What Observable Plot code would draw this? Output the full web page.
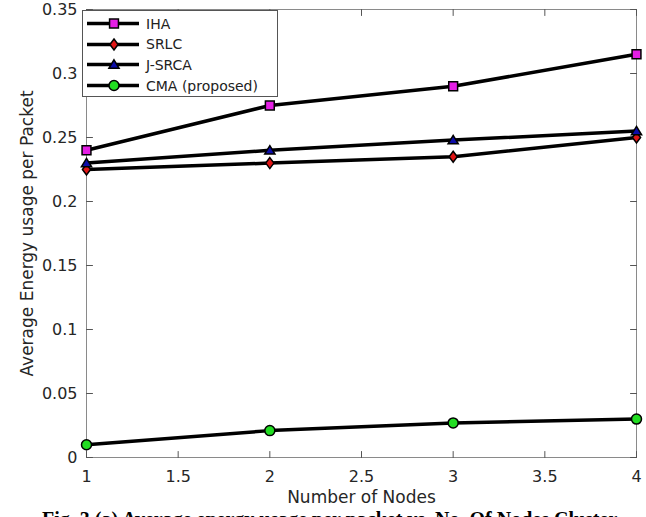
<!DOCTYPE html>
<html>
<head>
<meta charset="utf-8">
<script src="https://cdn.jsdelivr.net/npm/d3@7"></script>
<script src="https://cdn.jsdelivr.net/npm/@observablehq/plot@0.6"></script>
<style>
  html, body { margin: 0; padding: 0; background: #fff; }
  #wrap { position: relative; width: 646px; height: 517px; overflow: hidden; font-family: "DejaVu Sans", sans-serif; }
  #legend { position: absolute; left: 82px; top: 10px; width: 196px; height: 87px; border: 1px solid #555; background: #fff; box-sizing: border-box; }
  .row { position: absolute; left: 0; height: 21px; display: flex; align-items: center; }
  .row svg { display: block; }
  .row span { font-size: 14px; color: #222; margin-left: 5px; white-space: nowrap; }
  #caption { position: absolute; left: 42px; top: 509px; font-family: "Liberation Serif", serif; font-weight: bold; font-size: 20px; line-height: 20px; white-space: nowrap; color: #000; }
</style>
</head>
<body>
<div id="wrap"></div>
<script>
// ---- data ----
const nodes = [1, 2, 3, 4];
const seriesNames = ["IHA", "SRLC", "J-SRCA", "CMA (proposed)"];
const IHA = [0.24, 0.275, 0.29, 0.315];
const SRLC = [0.225, 0.23, 0.235, 0.25];
const JSRCA = [0.23, 0.24, 0.248, 0.255];
const CMA = [0.01, 0.021, 0.027, 0.03];
const xTicks = [1, 1.5, 2, 2.5, 3, 3.5, 4];
const yTicks = [0, 0.05, 0.1, 0.15, 0.2, 0.25, 0.3, 0.35];
const xTitle = "Number of Nodes";
const yTitle = "Average Energy usage per Packet";
const captionText = "Fig. 3 (a) Average energy usage per packet vs. No. Of Nodes Cluster";

// ---- styles ----
const colors = ["#e51ee5", "#e01515", "#0c0ca8", "#22dd22"];
const radius = [5, 5, 4.8, 5];

const diamond = {
  draw(ctx, size) {
    const s = Math.sqrt(size);
    const h = s * 0.62, w = s * 0.46;
    ctx.moveTo(0, -h); ctx.lineTo(w, 0); ctx.lineTo(0, h); ctx.lineTo(-w, 0); ctx.closePath();
  }
};
const triangle = {
  draw(ctx, size) {
    const s = Math.sqrt(size);
    const h = s * 0.55, w = s * 0.6;
    ctx.moveTo(0, -h); ctx.lineTo(w, h * 0.8); ctx.lineTo(-w, h * 0.8); ctx.closePath();
  }
};
const symbols = [d3.symbolSquare, diamond, triangle, d3.symbolCircle];

const allValues = [IHA, SRLC, JSRCA, CMA];
const table = [];
seriesNames.forEach((s, k) => nodes.forEach((n, i) => table.push({series: s, nodes: n, value: allValues[k][i]})));

const tickShape = { draw(ctx, l) { ctx.moveTo(0, 0); ctx.lineTo(0, -l); } };
const tickStyle = {length: 6, anchor: "start", shape: tickShape, stroke: "#555", strokeWidth: 1};

const marks = [
  Plot.frame({stroke: "#8a8a8a"}),
  Plot.vector(yTicks, {y: d => d, frameAnchor: "left", rotate: 90, ...tickStyle}),
  Plot.vector(yTicks, {y: d => d, frameAnchor: "right", rotate: -90, ...tickStyle}),
  Plot.vector(xTicks, {x: d => d, frameAnchor: "bottom", rotate: 0, ...tickStyle}),
  Plot.vector(xTicks, {x: d => d, frameAnchor: "top", rotate: 180, ...tickStyle}),
  Plot.axisX({ticks: xTicks, tickSize: 0, tickPadding: 13, tickFormat: d => String(d), label: null, fontSize: 16, fill: "#262626"}),
  Plot.axisY({ticks: yTicks, tickSize: 0, tickPadding: 9, tickFormat: d => String(d), label: null, fontSize: 16, fill: "#262626"}),
  Plot.text([xTitle], {text: d => d, frameAnchor: "bottom", textAnchor: "middle", dy: 45, fontSize: 17, fill: "#262626"}),
  Plot.text([yTitle], {text: d => d, frameAnchor: "left", textAnchor: "middle", rotate: -90, dx: -59, fontSize: 17, fill: "#262626"}),
];
seriesNames.forEach((s, k) => {
  marks.push(Plot.line(table.filter(d => d.series === s), {x: "nodes", y: "value", stroke: "#000", strokeWidth: 3.5}));
});
seriesNames.forEach((s, k) => {
  marks.push(Plot.dot(table.filter(d => d.series === s), {x: "nodes", y: "value", symbol: () => s, r: radius[k], fill: colors[k], stroke: "#000", strokeWidth: 1.5}));
});

const chart = Plot.plot({
  width: 646,
  height: 517,
  marginLeft: 86,
  marginRight: 10,
  marginTop: 9,
  marginBottom: 60,
  style: {fontFamily: "DejaVu Sans", background: "#fff"},
  x: {domain: [1, 4], axis: null},
  y: {domain: [0, 0.35], axis: null},
  symbol: {domain: seriesNames, range: symbols},
  marks
});

const wrap = document.getElementById("wrap");
wrap.appendChild(chart);

// legend
const legend = document.createElement("div");
legend.id = "legend";
seriesNames.forEach((s, k) => {
  const row = document.createElement("div");
  row.className = "row";
  row.style.top = (2 + k * 20.7) + "px";
  const svg = d3.create("svg").attr("width", 58).attr("height", 21);
  svg.append("line").attr("x1", 4).attr("x2", 56).attr("y1", 10.5).attr("y2", 10.5).attr("stroke", "#000").attr("stroke-width", 3.5);
  svg.append("path").attr("transform", "translate(31,10.5)")
    .attr("d", d3.symbol(symbols[k], Math.PI * radius[k] * radius[k])())
    .attr("fill", colors[k]).attr("stroke", "#000").attr("stroke-width", 1.5);
  row.appendChild(svg.node());
  const span = document.createElement("span");
  span.textContent = s;
  row.appendChild(span);
  legend.appendChild(row);
});
wrap.appendChild(legend);

const cap = document.createElement("div");
cap.id = "caption";
cap.textContent = captionText;
wrap.appendChild(cap);
</script>
</body>
</html>
